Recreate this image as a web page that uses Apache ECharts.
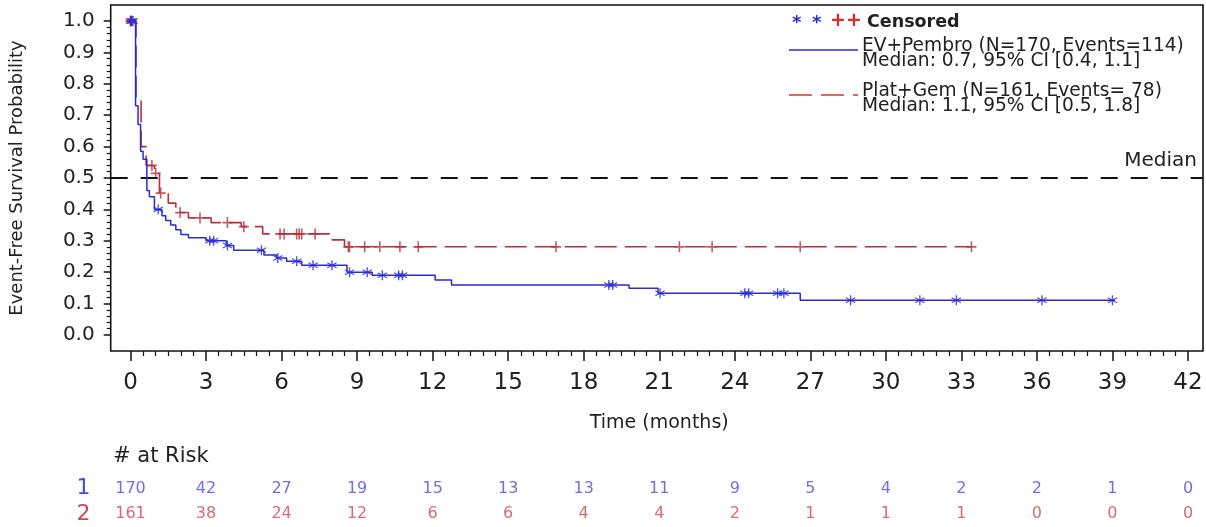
<!DOCTYPE html>
<html><head><meta charset="utf-8">
<script src="https://cdn.jsdelivr.net/npm/echarts@6/dist/echarts.min.js"></script>
<style>html,body{margin:0;padding:0;background:#fff}#c{width:1206px;height:527px}</style>
</head><body><div id="c"></div>
<script>
// ---- data ----
const timeTicks = [0, 3, 6, 9, 12, 15, 18, 21, 24, 27, 30, 33, 36, 39, 42];
const pembroTimes = [0, 0.2, 0.3, 0.4, 0.5, 0.65, 0.75, 0.95, 1.25, 1.4, 1.6, 1.8, 2.0, 2.3, 3.0, 3.8, 4.1, 5.3, 5.8, 6.2, 6.8, 8.6, 9.6, 12.1, 12.75, 19.8, 20.95, 26.6, 39.1];
const pembroSurv  = [1.0, 0.73, 0.67, 0.585, 0.56, 0.46, 0.44, 0.40, 0.38, 0.365, 0.35, 0.335, 0.32, 0.31, 0.30, 0.285, 0.27, 0.255, 0.245, 0.235, 0.222, 0.20, 0.19, 0.175, 0.159, 0.149, 0.133, 0.111, 0.111];
const pembroCensor = [0, 0.05, 0.1, 1.1, 3.15, 3.3, 3.85, 5.2, 5.85, 6.6, 7.25, 8.0, 8.7, 9.4, 10.0, 10.65, 10.8, 19.0, 19.15, 21.03, 24.4, 24.55, 25.7, 25.95, 28.6, 31.35, 32.8, 36.2, 39.0];
const gemTimes = [0, 0.22, 0.42, 0.62, 0.95, 1.15, 1.5, 1.8, 2.3, 3.2, 4.4, 5.25, 7.9, 8.5, 33.4];
const gemSurv  = [1.0, 0.75, 0.60, 0.54, 0.515, 0.452, 0.42, 0.39, 0.373, 0.358, 0.345, 0.322, 0.303, 0.281, 0.281];
const gemCensor = [0, 0.05, 0.85, 1.0, 1.2, 1.97, 2.76, 3.85, 4.5, 5.94, 6.1, 6.6, 6.7, 6.8, 7.33, 8.65, 8.7, 9.3, 9.9, 10.7, 11.43, 16.9, 21.8, 23.1, 26.6, 33.4];
const riskPembro = [170, 42, 27, 19, 15, 13, 13, 11, 9, 5, 4, 2, 2, 1, 0];
const riskGem    = [161, 38, 24, 12, 6, 6, 4, 4, 2, 1, 1, 1, 0, 0, 0];
const riskRows = ['2', '1'];
const medianLevel = 0.5;
const legendPembro = ['EV+Pembro (N=170, Events=114)', 'Median: 0.7, 95% CI [0.4, 1.1]'];
const legendGem = ['Plat+Gem (N=161, Events= 78)', 'Median: 1.1, 95% CI [0.5, 1.8]'];

// ---- helpers ----
const BLUE = '#2b2bd2', RED = '#b8303c';
const RISK_BLUE = '#4a4ae2', RISK_RED = '#d04454';
const FONT = 'DejaVu Sans';
function stepAt(times, surv, t) {
  let v = surv[0];
  for (let i = 0; i < times.length; i++) { if (times[i] <= t) v = surv[i]; }
  return v;
}
const curve = (times, surv) => times.map((t, i) => [t, surv[i]]);
const cens = (c, times, surv) => c.map(t => [t, stepAt(times, surv, t)]);
const plusPath = 'path://M4.2,0h1.6v10h-1.6z M0,4.2h10v1.6h-10z';
const starPath = 'path://M4.35,0h1.3v10h-1.3z M0.97,1.98L9.63,6.98L9.03,8.02L0.37,3.02z M0.37,6.98L9.03,1.98L9.63,3.02L0.97,8.02z';

const chart = echarts.init(document.getElementById('c'), null, {renderer: 'canvas'});
const W = 1206, H = 527;
const FL = 110.7, FT = 5, FR = 1203, FB = 351;
const X0 = 130.5, X42 = 1188, Y1 = 21, Y0 = 335;
const pxPerMonth = (X42 - X0) / 42, pxPerUnit = Y0 - Y1;
const frameXMin = (FL - X0) / pxPerMonth, frameXMax = (FR - X0) / pxPerMonth;
const frameYMin = -(FB - Y0) / pxPerUnit, frameYMax = 1 + (Y1 - FT) / pxPerUnit;

const hiddenAxis = (g, mn, mx) => ({gridIndex: g, type: 'value', min: mn, max: mx, show: false});

const option = {
  animation: false,
  backgroundColor: '#fff',
  textStyle: {fontFamily: FONT},
  grid: [
    {left: FL, top: FT, width: FR - FL, height: FB - FT, show: true, borderColor: '#111', borderWidth: 1.6, backgroundColor: 'transparent'},
    {left: X0, top: Y1, width: X42 - X0, height: Y0 - Y1},
    {left: X0, top: 476, width: X42 - X0, height: 51},
    {left: X0, top: Y1, width: X42 - X0, height: FB - Y1},
    {left: FL, top: Y1, width: X42 - FL, height: Y0 - Y1}
  ],
  xAxis: [
    hiddenAxis(0, frameXMin, frameXMax),
    hiddenAxis(1, 0, 42),
    hiddenAxis(2, 0, 42),
    {gridIndex: 3, type: 'value', min: 0, max: 42, interval: 3,
      axisLine: {show: false},
      axisTick: {show: true, length: 10, lineStyle: {color: '#111', width: 1.5}},
      minorTick: {show: true, splitNumber: 6, length: 5, lineStyle: {color: '#111', width: 1.2}},
      splitLine: {show: false},
      axisLabel: {fontSize: 23, color: '#222', margin: 21, fontFamily: FONT},
      name: 'Time (months)', nameLocation: 'middle', nameGap: 63,
      nameTextStyle: {fontSize: 19, color: '#222', fontFamily: FONT}},
    hiddenAxis(4, 0, 1)
  ],
  yAxis: [
    hiddenAxis(0, frameYMin, frameYMax),
    hiddenAxis(1, 0, 1),
    {gridIndex: 2, type: 'category', data: riskRows,
      axisLine: {show: false}, axisTick: {show: false},
      axisLabel: {fontSize: 22, margin: 40, interval: 0, fontFamily: FONT,
        color: (v) => v === '1' ? RISK_BLUE : RISK_RED}},
    hiddenAxis(3, 0, 1),
    {gridIndex: 4, type: 'value', min: 0, max: 1, interval: 0.1,
      axisLine: {show: false},
      axisTick: {show: true, length: 7, lineStyle: {color: '#111', width: 1.5}},
      minorTick: {show: true, splitNumber: 5, length: 4, lineStyle: {color: '#111', width: 1.2}},
      splitLine: {show: false},
      axisLabel: {fontSize: 20, color: '#222', margin: 16, formatter: v => v.toFixed(1), fontFamily: FONT},
      name: 'Event-Free Survival Probability', nameLocation: 'middle', nameGap: 84, nameRotate: 90,
      nameTextStyle: {fontSize: 18, color: '#222', fontFamily: FONT}}
  ],
  series: [
    {type: 'line', name: 'Median', xAxisIndex: 0, yAxisIndex: 0, symbol: 'none', silent: true,
      data: [[frameXMin, medianLevel], [frameXMax, medianLevel]],
      lineStyle: {color: '#111', width: 2, type: [17, 13]}},
    {type: 'line', name: 'Plat+Gem', xAxisIndex: 1, yAxisIndex: 1, step: 'end', symbol: 'none', clip: false,
      data: curve(gemTimes, gemSurv), lineStyle: {color: RED, width: 1.6, type: [22, 8]}},
    {type: 'line', name: 'EV+Pembro', xAxisIndex: 1, yAxisIndex: 1, step: 'end', symbol: 'none', clip: false,
      data: curve(pembroTimes, pembroSurv), lineStyle: {color: BLUE, width: 1.5}},
    {type: 'scatter', name: 'censor gem', xAxisIndex: 1, yAxisIndex: 1, clip: false,
      symbol: plusPath, symbolSize: [10, 11], itemStyle: {color: RED},
      data: cens(gemCensor, gemTimes, gemSurv)},
    {type: 'scatter', name: 'censor pembro', xAxisIndex: 1, yAxisIndex: 1, clip: false,
      symbol: starPath, symbolSize: [10, 10], itemStyle: {color: BLUE},
      data: cens(pembroCensor, pembroTimes, pembroSurv)},
    {type: 'scatter', xAxisIndex: 2, yAxisIndex: 2, symbolSize: 0, silent: true,
      data: timeTicks.map((t, i) => [t, '1', riskPembro[i]]),
      label: {show: true, position: 'inside', formatter: p => String(p.value[2]), fontSize: 16, color: RISK_BLUE, fontFamily: FONT}},
    {type: 'scatter', xAxisIndex: 2, yAxisIndex: 2, symbolSize: 0, silent: true,
      data: timeTicks.map((t, i) => [t, '2', riskGem[i]]),
      label: {show: true, position: 'inside', formatter: p => String(p.value[2]), fontSize: 16, color: RISK_RED, fontFamily: FONT}}
  ],
  graphic: [
    {type: 'text', left: 113, top: 446, style: {text: '# at Risk', font: '21px "DejaVu Sans"', fill: '#222'}},
    {type: 'text', right: W - 1197, top: 151, style: {text: 'Median', font: '20px "DejaVu Sans"', fill: '#222'}},
    {type: 'text', left: 792, top: 14, style: {text: '*', font: 'bold 18px "DejaVu Sans"', fill: BLUE}},
    {type: 'text', left: 812, top: 14, style: {text: '*', font: 'bold 18px "DejaVu Sans"', fill: BLUE}},
    {type: 'text', left: 830, top: 12, style: {text: '+', font: 'bold 19px "DejaVu Sans"', fill: '#e02828'}},
    {type: 'text', left: 846, top: 12, style: {text: '+', font: 'bold 19px "DejaVu Sans"', fill: '#e02828'}},
    {type: 'text', left: 867, top: 13, style: {text: 'Censored', font: 'bold 17.5px "DejaVu Sans"', fill: '#222'}},
    {type: 'line', shape: {x1: 789, y1: 50, x2: 858, y2: 50}, style: {stroke: BLUE, lineWidth: 1.6}},
    {type: 'text', left: 862, top: 37, style: {text: legendPembro[0], font: '18.6px "DejaVu Sans"', fill: '#222'}},
    {type: 'text', left: 862, top: 52, style: {text: legendPembro[1], font: '18.6px "DejaVu Sans"', fill: '#222'}},
    {type: 'line', shape: {x1: 789, y1: 95, x2: 858, y2: 95}, style: {stroke: '#e03030', lineWidth: 1.6, lineDash: [23, 9]}},
    {type: 'text', left: 862, top: 82, style: {text: legendGem[0], font: '18.6px "DejaVu Sans"', fill: '#222'}},
    {type: 'text', left: 862, top: 97, style: {text: legendGem[1], font: '18.6px "DejaVu Sans"', fill: '#222'}}
  ]
};
chart.setOption(option);
</script></body></html>
